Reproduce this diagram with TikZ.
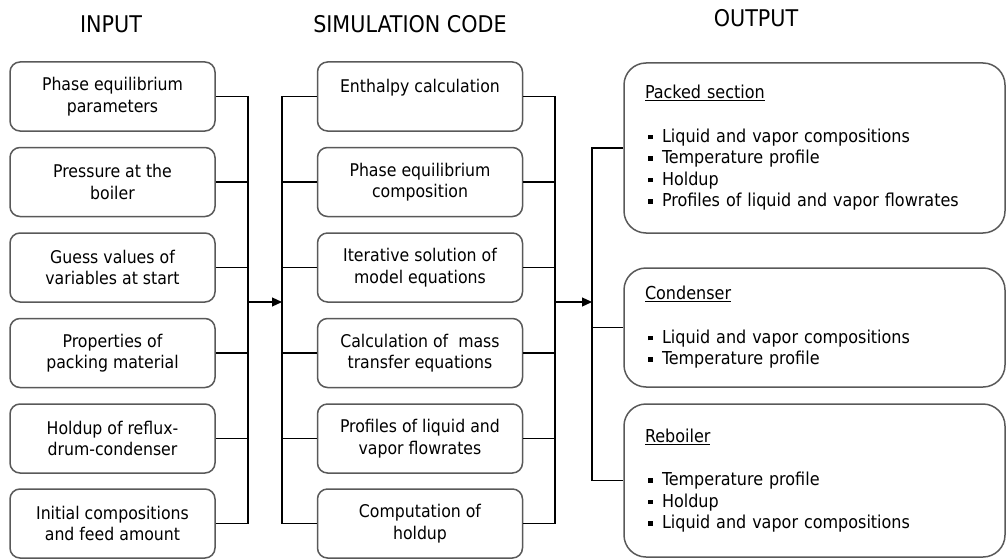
\documentclass[tikz,border=0pt]{standalone}
\usepackage{fontspec}
\setmainfont{DejaVu Sans Condensed}
\usetikzlibrary{arrows.meta}

\newcommand{\sqb}{\hspace*{3pt}\rule[3pt]{4.5pt}{4.5pt}\hspace{9.5pt}}

\begin{document}
\begin{tikzpicture}[x=1pt, y=-1pt]
        \tikzstyle{inbox}=[draw=black!65,line width=1.5pt,rounded corners=10pt,minimum width=205pt,minimum height=69pt,inner sep=0pt,align=center,font=\fontsize{17.5}{21.5}\selectfont]
        \tikzstyle{outbox}=[draw=black!65,line width=1.5pt,rounded corners=22pt,minimum width=381pt,text width=339pt,inner xsep=21pt,inner ysep=0pt,align=left,font=\fontsize{17.8}{21.5}\selectfont]
        \tikzstyle{heading}=[anchor=base,inner sep=0pt,font=\fontsize{23}{23}\selectfont]
        \tikzstyle{link}=[line width=1.2pt]
        \tikzstyle{feed}=[line width=1.2pt,-{Triangle[length=10pt,width=9pt]}]

        \useasboundingbox (0,0) rectangle (1008,559);

        \node[heading] (H_in) at (111,33) {INPUT};
        \node[heading] (H_sim) at (410,33) {SIMULATION CODE};
        \node[heading] (H_out) at (756,27) {OUTPUT};

        \node[inbox] (I_1) at (112.5,96.5) {Phase equilibrium\\parameters};
        \node[inbox] (I_2) at (112.5,182) {Pressure at the\\boiler};
        \node[inbox] (I_3) at (112.5,267.5) {Guess values of\\variables at start};
        \node[inbox] (I_4) at (112.5,353) {Properties of\\packing material};
        \node[inbox] (I_5) at (112.5,438.5) {Holdup of reflux-\\drum-condenser};
        \node[inbox] (I_6) at (112.5,523.5) {Initial compositions\\and feed amount};

        \node[inbox] (S_1) at (420,96.5) {Enthalpy calculation\\\mbox{}};
        \node[inbox] (S_2) at (420,182) {Phase equilibrium\\composition};
        \node[inbox] (S_3) at (420,267.5) {Iterative solution of\\model equations};
        \node[inbox] (S_4) at (420,353) {Calculation of~ mass\\transfer equations};
        \node[inbox] (S_5) at (420,438.5) {Profiles of liquid and\\vapor flowrates};
        \node[inbox] (S_6) at (420,523.5) {Computation of\\holdup};

        \node[outbox,minimum height=170pt] (O_1) at (814.5,148) {\underline{Packed section}\\[22pt]
            \sqb Liquid and vapor compositions\\ \sqb Temperature profile\\ \sqb Holdup\\
            \sqb Profiles of liquid and vapor flowrates};
        \node[outbox,minimum height=119pt] (O_2) at (814.5,327.5) {\underline{Condenser}\\[22pt]
            \sqb Liquid and vapor compositions\\ \sqb Temperature profile};
        \node[outbox,minimum height=153pt] (O_3) at (814.5,480.5) {\underline{Reboiler}\\[22pt]
            \sqb Temperature profile\\ \sqb Holdup\\ \sqb Liquid and vapor compositions};

        % bars and junctions
        \coordinate (J_in) at (248,0);
        \coordinate (J_sim) at (282,0);
        \coordinate (J_simout) at (555,0);
        \coordinate (J_out) at (592,0);
        \coordinate (A_in) at (248,302);
        \coordinate (A_sim) at (555,302);

        \draw[link] (I_1.east) -- (I_1.east -| J_in) -- (I_6.east -| J_in) -- (I_6.east);
        \draw[link] (I_2.east) -- (I_2.east -| J_in);
        \draw[link] (I_3.east) -- (I_3.east -| J_in);
        \draw[link] (I_4.east) -- (I_4.east -| J_in);
        \draw[link] (I_5.east) -- (I_5.east -| J_in);
        \draw[feed] (A_in) -- (A_in -| J_sim);

        \draw[link] (S_1.west) -- (S_1.west -| J_sim) -- (S_6.west -| J_sim) -- (S_6.west);
        \draw[link] (S_2.west) -- (S_2.west -| J_sim);
        \draw[link] (S_3.west) -- (S_3.west -| J_sim);
        \draw[link] (S_4.west) -- (S_4.west -| J_sim);
        \draw[link] (S_5.west) -- (S_5.west -| J_sim);

        \draw[link] (S_1.east) -- (S_1.east -| J_simout) -- (S_6.east -| J_simout) -- (S_6.east);
        \draw[link] (S_2.east) -- (S_2.east -| J_simout);
        \draw[link] (S_3.east) -- (S_3.east -| J_simout);
        \draw[link] (S_4.east) -- (S_4.east -| J_simout);
        \draw[link] (S_5.east) -- (S_5.east -| J_simout);
        \draw[feed] (A_sim) -- (A_sim -| J_out);

        \draw[link] (O_1.west) -- (O_1.west -| J_out) -- (O_3.west -| J_out) -- (O_3.west);
        \draw[link] (O_2.west) -- (O_2.west -| J_out);
\end{tikzpicture}
\end{document}
